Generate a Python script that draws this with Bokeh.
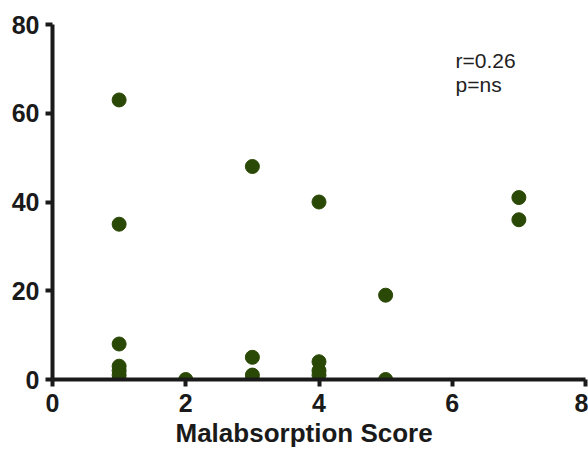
from bokeh.plotting import figure
from bokeh.models import FixedTicker, Range1d, Label, Title
from bokeh.embed import file_html
from bokeh.resources import INLINE

x_vals = [1, 1, 1, 1, 1, 1, 1, 2, 3, 3, 3, 3, 4, 4, 4, 4, 5, 5, 7, 7]
y_vals = [63, 35, 8, 3, 2, 1, 0, 0, 48, 5, 1, 0, 40, 4, 2, 1, 19, 0, 41, 36]
x_ticks = [0, 2, 4, 6, 8]
y_ticks = [0, 20, 40, 60, 80]
x_label = "Malabsorption Score"
stat_lines = ["r=0.26", "p=ns"]

p = figure(width=588, height=455, output_backend="svg", toolbar_location=None,
           x_range=Range1d(0, 8), y_range=Range1d(0, 80),
           min_border_left=52, min_border_right=3, min_border_top=24, min_border_bottom=76)
p.outline_line_color = None
p.grid.visible = False
p.background_fill_color = "white"

p.scatter(x_vals, y_vals, size=14, color="#2b4906", line_color="#2b4906")

for ax, ticks in ((p.xaxis[0], x_ticks), (p.yaxis[0], y_ticks)):
    ax.ticker = FixedTicker(ticks=ticks)
    ax.axis_line_width = 4
    ax.axis_line_color = "#1a1a1a"
    ax.major_tick_line_width = 4
    ax.major_tick_line_color = "#1a1a1a"
    ax.major_tick_out = 7
    ax.major_tick_in = 0
    ax.minor_tick_line_color = None
    ax.major_label_text_font = "Liberation Sans"
    ax.major_label_text_font_style = "bold"
    ax.major_label_text_font_size = "25px"
    ax.major_label_text_color = "#1a1a1a"
p.xaxis.major_label_standoff = 7
p.yaxis.major_label_standoff = 6

p.add_layout(Title(text=x_label, align="left", offset=123, text_font="Liberation Sans",
                   text_font_style="bold", text_font_size="26px", text_color="#1a1a1a",
                   standoff=3), "below")

for i, t in enumerate(stat_lines):
    p.add_layout(Label(x=6.05, y=74.5 - i * 5.4, text=t, text_font="Liberation Sans",
                       text_font_size="21px", text_color="#222222", text_baseline="top"))

open("out.html", "w").write(file_html(p, INLINE))
